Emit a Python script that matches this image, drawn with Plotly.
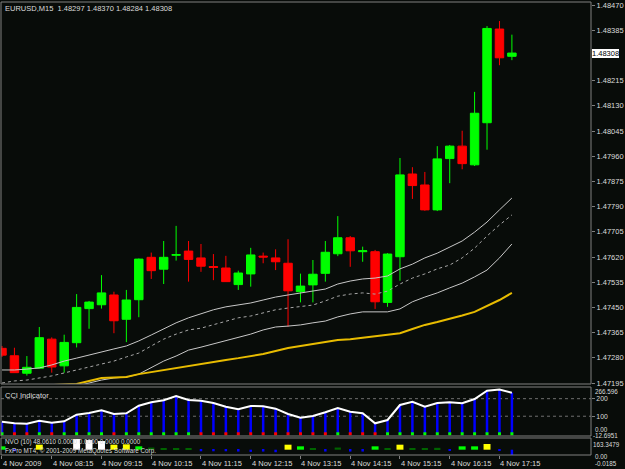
import plotly.graph_objects as go

# ---------------- data ----------------
bar_times = ["07:15", "07:30", "07:45", "08:00", "08:15", "08:30", "08:45", "09:00", "09:15", "09:30",
             "09:45", "10:00", "10:15", "10:30", "10:45", "11:00", "11:15", "11:30", "11:45", "12:00",
             "12:15", "12:30", "12:45", "13:00", "13:15", "13:30", "13:45", "14:00", "14:15", "14:30",
             "14:45", "15:00", "15:15", "15:30", "15:45", "16:00", "16:15", "16:30", "16:45", "17:00",
             "17:15", "17:30"]

open_ = [1.47312, 1.47287, 1.47228, 1.47245, 1.47343, 1.47253, 1.47331, 1.47446, 1.47459, 1.47492,
         1.47410, 1.47476, 1.47619, 1.47579, 1.47626, 1.47640, 1.47617, 1.47588, 1.47583, 1.47527,
         1.47563, 1.47623, 1.47617, 1.47599, 1.47503, 1.47526, 1.47565, 1.47631, 1.47685, 1.47638,
         1.47638, 1.47467, 1.47621, 1.47900, 1.47863, 1.47779, 1.47952, 1.47994, 1.47931, 1.48073,
         1.48389, 1.48297]
high = [1.47320, 1.47314, 1.47286, 1.47384, 1.47349, 1.47358, 1.47495, 1.47472, 1.47559, 1.47503,
        1.47509, 1.47615, 1.47635, 1.47674, 1.47725, 1.47674, 1.47664, 1.47630, 1.47624, 1.47574,
        1.47651, 1.47635, 1.47646, 1.47680, 1.47564, 1.47610, 1.47674, 1.47758, 1.47691, 1.47655,
        1.47644, 1.47633, 1.47954, 1.47923, 1.47907, 1.47994, 1.47998, 1.48046, 1.48177, 1.48399,
        1.48416, 1.48370]
low = [1.47283, 1.47229, 1.47220, 1.47244, 1.47230, 1.47230, 1.47315, 1.47378, 1.47446, 1.47363,
       1.47333, 1.47417, 1.47546, 1.47529, 1.47608, 1.47537, 1.47570, 1.47542, 1.47537, 1.47509,
       1.47520, 1.47599, 1.47576, 1.47385, 1.47467, 1.47467, 1.47537, 1.47623, 1.47587, 1.47604,
       1.47445, 1.47452, 1.47540, 1.47816, 1.47776, 1.47775, 1.47869, 1.47916, 1.47927, 1.47982,
       1.48267, 1.48284]
close = [1.47289, 1.47230, 1.47248, 1.47348, 1.47249, 1.47332, 1.47450, 1.47468, 1.47499, 1.47405,
         1.47475, 1.47613, 1.47574, 1.47619, 1.47628, 1.47612, 1.47589, 1.47585, 1.47537, 1.47566,
         1.47627, 1.47620, 1.47604, 1.47506, 1.47522, 1.47562, 1.47636, 1.47685, 1.47641, 1.47641,
         1.47469, 1.47630, 1.47897, 1.47861, 1.47779, 1.47951, 1.47994, 1.47935, 1.48105, 1.48391,
         1.48292, 1.48308]

band_upper = [1.47239, 1.47239, 1.47242, 1.47246, 1.47256, 1.47269, 1.47279, 1.47290, 1.47300, 1.47310,
              1.47320, 1.47337, 1.47357, 1.47378, 1.47398, 1.47415, 1.47428, 1.47442, 1.47452, 1.47458,
              1.47465, 1.47475, 1.47485, 1.47492, 1.47499, 1.47505, 1.47512, 1.47529, 1.47539, 1.47546,
              1.47549, 1.47556, 1.47580, 1.47596, 1.47617, 1.47633, 1.47654, 1.47674, 1.47704, 1.47738,
              1.47779, 1.47819]
band_middle = [1.47195, 1.47202, 1.47205, 1.47212, 1.47219, 1.47229, 1.47239, 1.47249, 1.47259, 1.47269,
               1.47283, 1.47296, 1.47320, 1.47343, 1.47360, 1.47374, 1.47380, 1.47391, 1.47404, 1.47415,
               1.47421, 1.47431, 1.47442, 1.47448, 1.47452, 1.47458, 1.47472, 1.47488, 1.47495, 1.47499,
               1.47495, 1.47505, 1.47529, 1.47549, 1.47563, 1.47580, 1.47593, 1.47617, 1.47650, 1.47691,
               1.47728, 1.47762]
band_lower = [1.47168, 1.47168, 1.47172, 1.47175, 1.47178, 1.47182, 1.47185, 1.47195, 1.47205, 1.47212,
              1.47215, 1.47225, 1.47246, 1.47269, 1.47286, 1.47306, 1.47316, 1.47327, 1.47337, 1.47350,
              1.47360, 1.47374, 1.47384, 1.47387, 1.47391, 1.47398, 1.47404, 1.47418, 1.47428, 1.47435,
              1.47435, 1.47435, 1.47445, 1.47469, 1.47485, 1.47499, 1.47516, 1.47532, 1.47553, 1.47576,
              1.47617, 1.47664]
ma_gold = [1.47172, 1.47175, 1.47178, 1.47183, 1.47188, 1.47190, 1.47192, 1.47202, 1.47212, 1.47214,
           1.47215, 1.47225, 1.47232, 1.47240, 1.47246, 1.47252, 1.47259, 1.47266, 1.47273, 1.47279,
           1.47286, 1.47293, 1.47303, 1.47313, 1.47320, 1.47327, 1.47333, 1.47340, 1.47343, 1.47348,
           1.47353, 1.47357, 1.47363, 1.47377, 1.47391, 1.47401, 1.47411, 1.47423, 1.47435, 1.47455,
           1.47475, 1.47499]

cci = [68.8, 59.7, 57.4, 74.5, 63.1, 71.1, 108.7, 118.4, 133.8, 112.7,
       116.7, 160.0, 179.4, 190.8, 215.3, 192.5, 188.5, 175.4, 154.3, 139.5,
       158.3, 157.0, 142.9, 112.7, 91.6, 101.3, 122.4, 146.9, 125.8, 116.7,
       59.7, 78.5, 164.0, 182.8, 154.3, 175.4, 179.4, 173.7, 198.2, 245.0,
       252.0, 234.0]
cci_signal = ["g", "r", "r", "g", "r", "g", "g", "g", "g", "r",
              "g", "g", "g", "g", "g", "g", "r", "r", "r", "r",
              "r", "r", "r", "r", "r", "r", "r", "g", "r", "r",
              "r", "g", "g", "g", "g", "g", "g", "g", "g", "g",
              "g", "g"]

nvo = [47, -22, 0, 70, 0, 0, 149, 135, 121, 70,
       75, 47, 30, 18, 18, 14, -22, -22, -22, -26,
       -30, -26, -35, 70, 47, 14, -26, 30, -26, -26,
       47, 18, 70, 18, 14, 26, -18, 47, 47, 80,
       -8, -74]
nvo_class = ["green", "blue", "none", "yellow", "none", "none", "white", "white", "white", "yellow",
             "yellow", "green", "dgreen", "dgreen", "dgreen", "dgreen", "blue", "blue", "blue", "blue",
             "blue", "blue", "blue", "yellow", "green", "dgreen", "blue", "dgreen", "blue", "blue",
             "green", "dgreen", "yellow", "dgreen", "dgreen", "dgreen", "blue", "green", "green", "yellow",
             "blue", "blue"]

price_ticks = [1.47195, 1.47280, 1.47365, 1.47450, 1.47535, 1.47620, 1.47705, 1.47790,
               1.47875, 1.47960, 1.48045, 1.48130, 1.48215, 1.48385, 1.48470]
price_tick_text = ["1.47195", "1.47280", "1.47365", "1.47450", "1.47535", "1.47620", "1.47705", "1.47790",
                   "1.47875", "1.47960", "1.48045", "1.48130", "1.48215", "1.48385", "1.48470"]
time_tick_bars = ["07:15", "08:15", "09:15", "10:15", "11:15", "12:15", "13:15", "14:15", "15:15",
                  "16:15", "17:15"]
time_tick_text = ["4 Nov 2009", "4 Nov 08:15", "4 Nov 09:15", "4 Nov 10:15", "4 Nov 11:15",
                  "4 Nov 12:15", "4 Nov 13:15", "4 Nov 14:15", "4 Nov 15:15", "4 Nov 16:15",
                  "4 Nov 17:15"]
cci_max, cci_min = 266.596, -12.6951
nvo_max, nvo_min = 163.3479, -74.0
nvo_low_label = "-0.0185"
last_price = 1.48308

# ---------------- styling ----------------
BG = "#080c09"
FRAME = "#808080"
TXT = "#dcdcdc"
FONT = "Liberation Sans"
FS = 7.5
FS_SMALL = 6.3

nvo_colors = {"green": "#00ff00", "dgreen": "#006400", "yellow": "#ffff00", "white": "#ffffff",
              "blue": "#0000ff", "none": "rgba(0,0,0,0)"}
nvo_widths = {"green": 0.56, "dgreen": 0.5, "yellow": 0.56, "white": 0.56, "blue": 0.2, "none": 0.2}

fig = go.Figure()

fig.add_trace(go.Candlestick(
    x=bar_times, open=open_, high=high, low=low, close=close,
    increasing=dict(line=dict(color="#00ff00", width=1), fillcolor="#00ff00"),
    decreasing=dict(line=dict(color="#ff0000", width=1), fillcolor="#ff0000"),
    whiskerwidth=0, xaxis="x", yaxis="y", hoverinfo="skip"))

fig.add_trace(go.Scatter(x=bar_times, y=band_upper, mode="lines",
                         line=dict(color="#c8c8c8", width=1), yaxis="y"))
fig.add_trace(go.Scatter(x=bar_times, y=band_middle, mode="lines",
                         line=dict(color="#a8a8a8", width=1, dash="3px,3px"), yaxis="y"))
fig.add_trace(go.Scatter(x=bar_times, y=band_lower, mode="lines",
                         line=dict(color="#c8c8c8", width=1), yaxis="y"))
fig.add_trace(go.Scatter(x=bar_times, y=ma_gold, mode="lines",
                         line=dict(color="#e8bc00", width=2), yaxis="y"))

# CCI panel
fig.add_trace(go.Bar(x=bar_times, y=cci, width=0.2, marker=dict(color="#0000ff", line=dict(width=0)),
                     yaxis="y2"))
fig.add_trace(go.Scatter(x=bar_times, y=cci, mode="lines", line=dict(color="#ffffff", width=2),
                         yaxis="y2"))
fig.add_trace(go.Scatter(x=bar_times, y=[0] * len(bar_times), mode="markers",
                         marker=dict(symbol="square", size=3,
                                     color=["#00ff00" if s == "g" else "#ff0000" for s in cci_signal],
                                     line=dict(width=0)),
                         yaxis="y2"))

# NVO panel
fig.add_trace(go.Bar(x=bar_times, y=nvo,
                     width=[nvo_widths[c] for c in nvo_class],
                     marker=dict(color=[nvo_colors[c] for c in nvo_class], line=dict(width=0)),
                     yaxis="y3"))

axis_font = dict(family=FONT, size=FS, color=TXT)
small_font = dict(family=FONT, size=FS_SMALL, color=TXT)
cci_tick_font = dict(family=FONT, size=6.8, color=TXT)

annotations = [
    dict(text="EURUSD,M15  1.48297 1.48370 1.48284 1.48308", xref="paper", yref="paper",
         x=0, y=1, xanchor="left", yanchor="top", xshift=3, yshift=-1, showarrow=False,
         font=axis_font, borderpad=0),
    dict(text="CCI Indicator", xref="paper", yref="y2 domain", x=0, y=1, xanchor="left",
         yanchor="top", xshift=3, yshift=-3, showarrow=False, font=axis_font, borderpad=0),
    dict(text="NVO (10) 48.0610 0.0000 0.0000 0.0000 0.0000", xref="paper", yref="y3 domain",
         x=0, y=1, xanchor="left", yanchor="top", xshift=3, yshift=1, showarrow=False,
         font=small_font, borderpad=0),
    dict(text="FxPro MT4, © 2001-2009 MetaQuotes Software Corp.", xref="paper", yref="y3 domain",
         x=0, y=1, xanchor="left", yanchor="top", xshift=3, yshift=-8, showarrow=False,
         font=small_font, borderpad=0),
    dict(text=f"{last_price:.5f}", xref="paper", yref="y", x=1, y=last_price, xanchor="left",
         yanchor="middle", xshift=1, showarrow=False, font=dict(family=FONT, size=FS, color="#000000"),
         bgcolor="#ffffff", bordercolor="#ffffff", borderwidth=0, borderpad=0),
    dict(text=f"{cci_max:.3f}", xref="paper", yref="y2 domain", x=1, y=1, xanchor="left",
         yanchor="top", xshift=3, yshift=0, showarrow=False, font=small_font, borderpad=0),
    dict(text="0.00", xref="paper", yref="y2", x=1, y=0, xanchor="left",
         yanchor="bottom", xshift=3, yshift=0, showarrow=False, font=small_font, borderpad=0),
    dict(text=f"{cci_min:.4f}", xref="paper", yref="y2", x=1, y=cci_min, xanchor="left",
         yanchor="middle", xshift=1, yshift=1, showarrow=False, font=small_font, borderpad=0),
    dict(text=f"{nvo_max:.4f}", xref="paper", yref="y3 domain", x=1, y=1, xanchor="left",
         yanchor="top", xshift=1, yshift=-2, showarrow=False, font=small_font, borderpad=0),
    dict(text="0.00", xref="paper", yref="y3 domain", x=1, y=0, xanchor="left",
         yanchor="middle", xshift=3, yshift=-1, showarrow=False, font=small_font, borderpad=0),
    dict(text=nvo_low_label, xref="paper", yref="y3 domain", x=1, y=0, xanchor="left",
         yanchor="top", xshift=3, yshift=-4, showarrow=False, font=small_font, borderpad=0),
]
for t, lab in zip(time_tick_bars, time_tick_text):
    annotations.append(dict(text=lab, xref="x", yref="paper", x=t, y=0, xanchor="left",
                            yanchor="top", xshift=0, yshift=-3, showarrow=False,
                            font=axis_font, borderpad=0))

shapes = []
for yr in ["y domain", "y2 domain", "y3 domain"]:
    shapes.append(dict(type="rect", xref="paper", yref=yr, x0=0, x1=1, y0=0, y1=1,
                       line=dict(color=FRAME, width=1), fillcolor="rgba(0,0,0,0)", layer="above"))
for lvl in [100, 200]:
    shapes.append(dict(type="line", xref="paper", yref="y2", x0=0, x1=1, y0=lvl, y1=lvl,
                       line=dict(color="#707070", width=1, dash="dot"), layer="below"))

fig.update_layout(
    width=625, height=469,
    margin=dict(l=1, r=31, t=2, b=14),
    paper_bgcolor=BG, plot_bgcolor=BG,
    showlegend=False,
    barmode="overlay",
    boxgap=0.32, boxgroupgap=0,
    font=axis_font,
    xaxis=dict(type="category", categoryorder="array", categoryarray=bar_times,
               range=[-0.08, 47.36], anchor="y3", showgrid=False, zeroline=False,
               showline=False, rangeslider=dict(visible=False),
               tickmode="array", tickvals=time_tick_bars, showticklabels=False,
               ticks="outside", ticklen=3, tickcolor=FRAME, fixedrange=True),
    yaxis=dict(domain=[0.15673, 1.0], range=[1.471917, 1.484802], side="right",
               showgrid=False, zeroline=False, showline=False, anchor="x",
               tickmode="array", tickvals=price_ticks, ticktext=price_tick_text,
               ticks="outside", ticklen=3, tickcolor=FRAME, tickfont=axis_font),
    yaxis2=dict(domain=[0.04194, 0.15011], range=[cci_min, cci_max], side="right",
                showgrid=False, zeroline=False, showline=False, anchor="x",
                tickmode="array", tickvals=[100, 200], ticktext=["100", "200"],
                ticks="outside", ticklen=3, tickcolor=FRAME, tickfont=cci_tick_font),
    yaxis3=dict(domain=[0.0, 0.03753], range=[nvo_min, nvo_max], side="right",
                showgrid=False, zeroline=False, showline=False, anchor="x",
                showticklabels=False, ticks=""),
    annotations=annotations,
    shapes=shapes,
)

fig.write_html("out.html")
